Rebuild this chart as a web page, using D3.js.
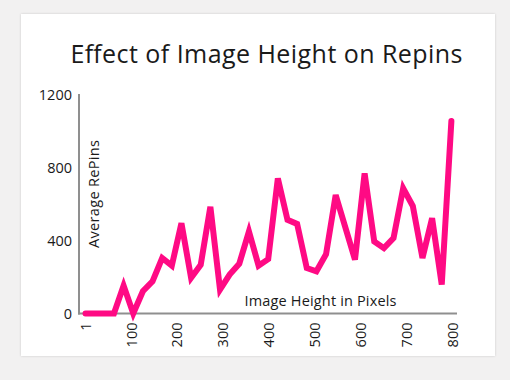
<!DOCTYPE html>
<html>
<head>
<meta charset="utf-8">
<script src="https://cdn.jsdelivr.net/npm/d3@7"></script>
<style>
  html, body { margin: 0; padding: 0; background: #f2f1f1; }
  svg { display: block; }
  text { font-family: "Open Sans", "Lato", sans-serif; fill: #1a1a1a; }
</style>
</head>
<body>
<svg id="chart" width="510" height="380"></svg>
<script>
// ---- data ----
const title = "Effect of Image Height on Repins";
const xTitle = "Image Height in Pixels";
const yTitle = "Average RePins";
const heights = [1, 21, 42, 63, 84, 105, 126, 147, 168, 189, 210, 231, 252, 273, 294, 315, 336, 357, 378, 399,
                 420, 441, 462, 483, 504, 525, 546, 567, 588, 609, 630, 651, 672, 693, 714, 735, 756, 777, 798];
const repins = [0, 0, 0, 0, 153, 0, 122, 176, 304, 262, 495, 195, 267, 585, 131, 213, 273, 449, 262, 298,
                740, 513, 491, 249, 231, 325, 649, 472, 295, 768, 394, 358, 413, 686, 589, 304, 522, 158, 1055];
const xTicks = [1, 100, 200, 300, 400, 500, 600, 700, 800];
const yTicks = [0, 400, 800, 1200];

const svg = d3.select("#chart");
const FONT = "'Open Sans', Lato, sans-serif";

// card
const defs = svg.append("defs");
const f = defs.append("filter").attr("id", "shadow").attr("x", "-5%").attr("y", "-5%").attr("width", "110%").attr("height", "110%");
f.append("feDropShadow").attr("dx", 0).attr("dy", 0).attr("stdDeviation", 1).attr("flood-color", "#000").attr("flood-opacity", 0.18);
svg.append("rect").attr("x", 21).attr("y", 14).attr("width", 474).attr("height", 342)
  .attr("fill", "#fff").attr("filter", "url(#shadow)");

// scales
const x = d3.scaleLinear().domain([1, 800]).range([85.5, 452.3]);
const y = d3.scaleLinear().domain([0, 1200]).range([313.5, 94.5]);

// title
svg.append("text").attr("x", 266.5).attr("y", 63).attr("text-anchor", "middle")
  .attr("font-size", 25).attr("textLength", 392).attr("lengthAdjust", "spacing")
  .style("font-family", FONT).text(title);

// axis lines
svg.append("line").attr("x1", 79).attr("x2", 79).attr("y1", 94).attr("y2", 314.5)
  .attr("stroke", "#8f8f8f").attr("stroke-width", 2);
svg.append("line").attr("x1", 78).attr("x2", 457).attr("y1", 313.5).attr("y2", 313.5)
  .attr("stroke", "#8f8f8f").attr("stroke-width", 2);

// y axis labels
const yAxis = svg.append("g").attr("transform", "translate(79,0)")
  .call(d3.axisLeft(y).tickValues(yTicks).tickSize(0).tickPadding(7).tickFormat(d3.format("d")));
yAxis.select(".domain").remove();
yAxis.selectAll("text").attr("font-size", 14.5).style("font-family", FONT).attr("fill", "#1a1a1a");

// x axis labels (rotated)
const xAxis = svg.append("g").attr("transform", "translate(0,313.5)")
  .call(d3.axisBottom(x).tickValues(xTicks).tickSize(0).tickFormat(d3.format("d")));
xAxis.select(".domain").remove();
xAxis.selectAll("text")
  .attr("font-size", 14.5).style("font-family", FONT).attr("fill", "#1a1a1a")
  .attr("transform", "rotate(-90)")
  .attr("text-anchor", "end")
  .attr("x", -9).attr("y", 0).attr("dy", "0.35em");

// axis titles
svg.append("text").attr("x", 320.5).attr("y", 306).attr("text-anchor", "middle")
  .attr("font-size", 14.5).attr("textLength", 152).attr("lengthAdjust", "spacing")
  .style("font-family", FONT).text(xTitle);
svg.append("text").attr("transform", "translate(99,194) rotate(-90)").attr("text-anchor", "middle")
  .attr("font-size", 14.5).attr("textLength", 108).attr("lengthAdjust", "spacing")
  .style("font-family", FONT).text(yTitle);

// line
const pts = heights.map((h, i) => [h, repins[i]]);
svg.append("path").datum(pts)
  .attr("fill", "none").attr("stroke", "#ff0a84").attr("stroke-width", 6)
  .attr("stroke-linecap", "round").attr("stroke-linejoin", "miter")
  .attr("d", d3.line().x(d => x(d[0])).y(d => y(d[1])));
</script>
</body>
</html>
